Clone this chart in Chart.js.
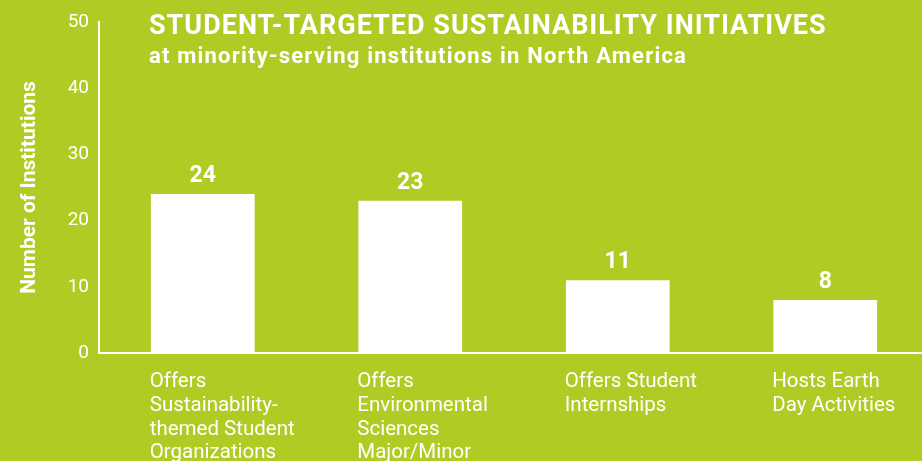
<!DOCTYPE html>
<html>
<head>
<meta charset="utf-8">
<script src="https://cdn.jsdelivr.net/npm/chart.js@4/dist/chart.umd.min.js"></script>
<style>
  html, body { margin: 0; padding: 0; background: #B0CB24; overflow: hidden; width: 922px; height: 461px; }
  #wrap { width: 929px; height: 461px; }
</style>
</head>
<body>
<div id="wrap"><canvas id="c" width="929" height="461"></canvas></div>
<script>
// ---- data ----
const categories = [
  ["Offers", "Sustainability-", "themed Student", "Organizations"],
  ["Offers", "Environmental", "Sciences", "Major/Minor"],
  ["Offers Student", "Internships"],
  ["Hosts Earth", "Day Activities"]
];
const institutionCounts = [24, 23, 11, 8];
const yTickValues = [0, 10, 20, 30, 40, 50];
const titleText = "STUDENT-TARGETED SUSTAINABILITY INITIATIVES";
const subtitleText = "at minority-serving institutions in North America";
const yAxisTitle = "Number of Institutions";

const BG = '#B0CB24';
const FG = '#FFFFFF';
const FONT = 'Roboto, "DejaVu Sans", sans-serif';

const bgPlugin = {
  id: 'bg',
  beforeDraw(chart) {
    const ctx = chart.ctx;
    ctx.save();
    ctx.fillStyle = BG;
    ctx.fillRect(0, 0, chart.width, chart.height);
    ctx.restore();
  }
};

const headingPlugin = {
  id: 'heading',
  afterDraw(chart) {
    const ctx = chart.ctx;
    ctx.save();
    ctx.fillStyle = FG;
    ctx.textAlign = 'left';
    ctx.textBaseline = 'alphabetic';
    ctx.font = 'bold 27px ' + FONT;
    ctx.letterSpacing = '1px';
    ctx.fillText(titleText, 149, 34);
    ctx.font = 'bold 22px ' + FONT;
    ctx.letterSpacing = '1.2px';
    ctx.fillText(subtitleText, 149, 63);
    ctx.restore();
  }
};

const valueLabelPlugin = {
  id: 'valueLabels',
  afterDatasetsDraw(chart) {
    const ctx = chart.ctx;
    const meta = chart.getDatasetMeta(0);
    ctx.save();
    ctx.fillStyle = FG;
    ctx.font = 'bold 23px ' + FONT;
    ctx.textAlign = 'center';
    ctx.textBaseline = 'bottom';
    meta.data.forEach((bar, i) => {
      ctx.fillText(String(chart.data.datasets[0].data[i]), bar.x, bar.y - 6);
    });
    ctx.restore();
  }
};

new Chart(document.getElementById('c'), {
  type: 'bar',
  data: {
    labels: categories,
    datasets: [{
      data: institutionCounts,
      backgroundColor: FG,
      borderWidth: 0,
      barPercentage: 0.5,
      categoryPercentage: 1.0
    }]
  },
  options: {
    responsive: false,
    animation: false,
    events: [],
    layout: { padding: { top: 22, left: 0, right: 0, bottom: 0 } },
    plugins: {
      legend: { display: false },
      tooltip: { enabled: false },
      title: { display: false }
    },
    scales: {
      x: {
        offset: true,
        grid: { display: false, drawTicks: false },
        border: { display: true, color: FG, width: 2 },
        ticks: {
          color: FG,
          font: { family: FONT, size: 20.5, lineHeight: 1.16 },
          align: 'start',
          labelOffset: -53,
          padding: 17,
          maxRotation: 0,
          autoSkip: false
        },
        afterFit(s) { s.paddingLeft = 0; s.paddingRight = 0; s.height = 108; }
      },
      y: {
        min: 0,
        max: 50,
        afterBuildTicks(s) { s.ticks = yTickValues.map(v => ({ value: v })); },
        grid: { display: false, drawTicks: false },
        border: { display: true, color: FG, width: 2 },
        ticks: {
          color: FG,
          font: { family: FONT, size: 19 },
          padding: 10
        },
        title: {
          display: true,
          text: yAxisTitle,
          color: FG,
          font: { family: FONT, size: 21, weight: 'bold' },
          padding: { top: 17, bottom: 0 }
        },
        afterFit(s) { s.width = 99; }
      }
    }
  },
  plugins: [bgPlugin, headingPlugin, valueLabelPlugin]
});
</script>
</body>
</html>
